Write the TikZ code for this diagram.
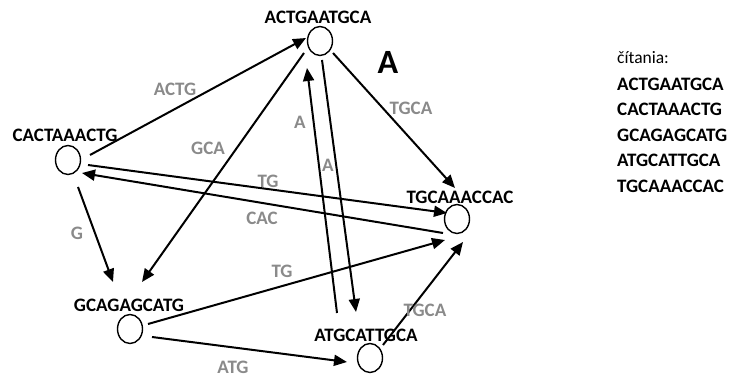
\documentclass[tikz,border=0pt]{standalone}
\usepackage{fontspec}
\setmainfont{Carlito}
\usetikzlibrary{arrows.meta,shapes.geometric}
\definecolor{lblgray}{HTML}{8A8A8A}
\tikzset{
  vert/.style={draw, ellipse, line width=1.4pt, minimum width=25pt, minimum height=29pt, inner sep=0pt},
  vname/.style={font=\fontsize{19}{19}\selectfont\bfseries, inner sep=0pt},
  elabel/.style={font=\fontsize{19}{19}\selectfont\bfseries, text=lblgray, inner sep=0pt},
  arr/.style={line width=2pt, -{Triangle[length=13pt,width=11pt]}},
  readtxt/.style={font=\fontsize{19}{19}\selectfont\bfseries, anchor=west, inner sep=0pt}
}
\begin{document}
\begin{tikzpicture}[x=1pt,y=-1pt]
\useasboundingbox (0,0) rectangle (734,379);

% vertices of the overlap graph
\node[vert] (act) at (320,41) {};
\node[vert] (cac) at (68,160) {};
\node[vert] (tgc) at (457,219) {};
\node[vert] (gca) at (130,329) {};
\node[vert] (atg) at (370,358) {};

% vertex names
\node[vname] (nact) at (318,17) {ACTGAATGCA};
\node[vname] (ncac) at (65,135) {CACTAAACTG};
\node[vname] (ntgc) at (460,197) {TGCAAACCAC};
\node[vname] (ngca) at (129,305) {GCAGAGCATG};
\node[vname] (natg) at (366,335) {ATGCATTGCA};

\node[font=\fontsize{34}{34}\selectfont\bfseries, inner sep=0pt] (bigA) at (388,62) {A};

% overlap edges
\draw[arr] ([shift={(22,-5)}]cac.center) -- ([shift={(-14,-3)}]act.center);
\draw[arr] ([shift={(-16,12)}]act.center) -- ([shift={(12,-47)}]gca.center);
\draw[arr] ([shift={(10,27)}]cac.center) -- ([shift={(-17,-47)}]gca.center);
\draw[arr] ([shift={(13,12)}]act.center) -- ([shift={(-2,-31)}]tgc.center);
\draw[arr] ([shift={(-33,-45)}]atg.center) -- ([shift={(-13,27)}]act.center);
\draw[arr] ([shift={(2,19)}]act.center) -- ([shift={(-14,-46)}]atg.center);
\draw[arr] ([shift={(20,5)}]cac.center) -- ([shift={(-10,-6)}]tgc.center);
\draw[arr] ([shift={(-14,14)}]tgc.center) -- ([shift={(14,13)}]cac.center);
\draw[arr] ([shift={(18,-5)}]gca.center) -- ([shift={(-12,21)}]tgc.center);
\draw[arr] ([shift={(22,8)}]gca.center) -- ([shift={(-23,4)}]atg.center);
\draw[arr] ([shift={(13,-13)}]atg.center) -- ([shift={(6,23)}]tgc.center);

% edge labels
\node[elabel] (l1) at (175,89) {ACTG};
\node[elabel] (l2) at (208,148) {GCA};
\node[elabel] (l3) at (411,108) {TGCA};
\node[elabel] (l4) at (300,122) {A};
\node[elabel] (l5) at (328,165) {A};
\node[elabel] (l6) at (268,181) {TG};
\node[elabel] (l7) at (262,218) {CAC};
\node[elabel] (l8) at (77,233) {G};
\node[elabel] (l9) at (282,271) {TG};
\node[elabel] (l10) at (425,310) {TGCA};
\node[elabel] (l11) at (233,367) {ATG};

% list of reads
\node[anchor=west, inner sep=0pt, font=\fontsize{17.5}{17.5}\selectfont] (rhead) at (617,58) {čítania:};
\node[readtxt] (r1) at (617,84) {ACTGAATGCA};
\node[readtxt] (r2) at (617,109) {CACTAAACTG};
\node[readtxt] (r3) at (617,135) {GCAGAGCATG};
\node[readtxt] (r4) at (617,160) {ATGCATTGCA};
\node[readtxt] (r5) at (617,186) {TGCAAACCAC};
\end{tikzpicture}
\end{document}
